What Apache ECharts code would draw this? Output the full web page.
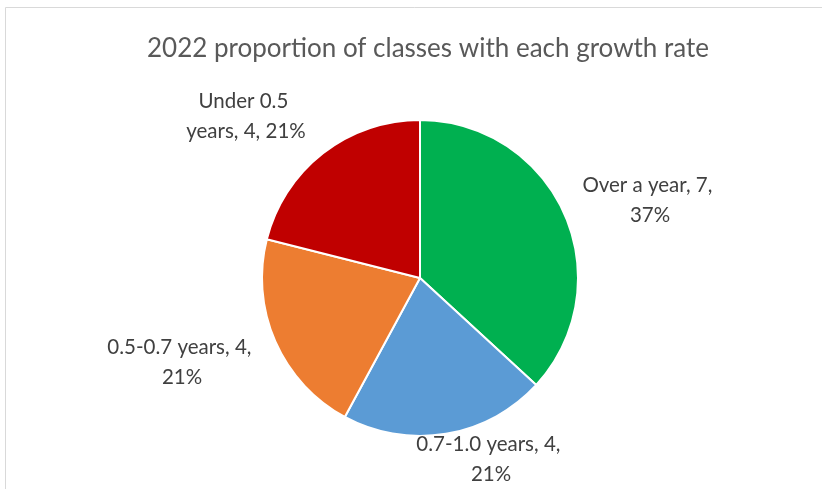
<!DOCTYPE html>
<html>
<head>
<meta charset="utf-8">
<script src="https://cdn.jsdelivr.net/npm/echarts@6/dist/echarts.min.js"></script>
<style>
html, body { margin: 0; padding: 0; background: #fff; }
#main { width: 822px; height: 489px; }
</style>
</head>
<body>
<div id="main"></div>
<script>
const categories = ['Over a year', '0.7-1.0 years', '0.5-0.7 years', 'Under 0.5 years']
const counts = [7, 4, 4, 4]
const colors = ['#00b050', '#5b9bd5', '#ed7d31', '#c00000']
// label box widths (to wrap like the original) and label centres
const labelWidths = [150, 165, 165, 130]
const labelCenters = [[650, 200], [491, 459], [182, 362], [246, 116]]

const chart = echarts.init(document.getElementById('main'))

chart.setOption({
  animation: false,
  title: {
    text: '2022 proportion of classes with each growth rate',
    left: 423,
    top: 31,
    textAlign: 'center',
    textStyle: {
      fontFamily: 'Lato',
      fontWeight: 'normal',
      fontSize: 26,
      color: '#595959'
    }
  },
  graphic: [{
    type: 'rect',
    shape: { x: 5.5, y: 7.5, width: 900, height: 600 },
    style: { fill: 'none', stroke: '#d9d9d9', lineWidth: 1 },
    silent: true
  }],
  series: [{
    type: 'pie',
    center: [420, 278],
    radius: [0, 158],
    startAngle: 90,
    clockwise: true,
    itemStyle: { borderColor: '#fff', borderWidth: 2 },
    label: {
      show: true,
      position: 'outside',
      fontFamily: 'Lato',
      fontSize: 20.5,
      lineHeight: 30,
      color: '#404040',
      align: 'center',
      overflow: 'break',
      formatter: function (p) {
        return p.name + ', ' + p.value + ', ' + Math.round(p.percent) + '%'
      }
    },
    labelLine: { show: false },
    labelLayout: function (p) {
      const c = labelCenters[p.dataIndex]
      return { x: c[0], y: c[1], align: 'center', verticalAlign: 'middle' }
    },
    data: categories.map((name, i) => ({
      name,
      value: counts[i],
      itemStyle: { color: colors[i] },
      label: { width: labelWidths[i] }
    }))
  }]
})
</script>
</body>
</html>
